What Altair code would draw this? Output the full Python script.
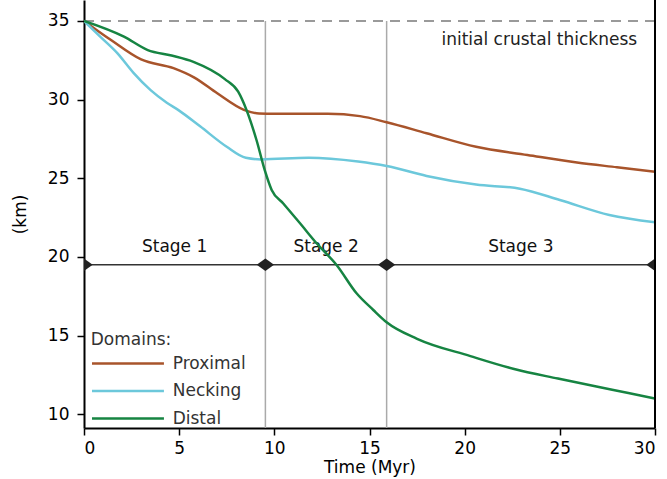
import altair as alt
import pandas as pd

# ---------------- data ----------------
domains = ["Proximal", "Necking", "Distal"]
colors = ["#a8542b", "#6cc8db", "#168442"]

prox_t = [0, 1.4, 3.0, 4.7, 5.8, 7.0, 8.4, 9.2, 10, 12.8, 14.5, 15.9, 18.0, 20.6, 23.3, 25.9, 28.0, 30]
prox_h = [35, 33.8, 32.55, 32.0, 31.4, 30.4, 29.35, 29.12, 29.1, 29.1, 28.95, 28.56, 27.86, 27.0, 26.48, 26.0, 25.7, 25.42]

neck_t = [0, 0.85, 1.75, 2.6, 3.5, 4.35, 5.0, 6.1, 7.5, 8.5, 9.3, 11.8, 14.4, 15.9, 18.0, 20.6, 22.9, 25.0, 27.6, 30]
neck_h = [35, 34.0, 32.95, 31.7, 30.6, 29.8, 29.3, 28.3, 27.0, 26.3, 26.2, 26.3, 26.06, 25.78, 25.15, 24.6, 24.34, 23.62, 22.67, 22.2]

dist_t = [0, 2.1, 3.35, 4.6, 5.75, 7.4, 8.1, 8.55, 9.07, 9.5, 9.86, 10.47, 11.35, 12.22, 13.27, 14.32, 15.2, 15.9,
          17.5, 20.3, 22.6, 24.9, 27.05, 28.6, 30]
dist_h = [35, 34.0, 33.15, 32.8, 32.4, 31.3, 30.5, 29.3, 27.4, 25.5, 24.26, 23.4, 22.14, 20.87, 19.49, 17.69, 16.63, 15.85,
          14.8, 13.7, 12.88, 12.27, 11.73, 11.36, 11.0]

stage_bounds = [9.53, 15.9]
stage_marker_t = [0, 9.53, 15.9, 30]
stage_labels = ["Stage 1", "Stage 2", "Stage 3"]
stage_label_t = [4.76, 12.72, 22.95]
stage_line_h = 19.5
stage_label_h = 20.3

initial_thickness = 35
X_MIN, X_MAX = 0, 30
Y_MIN, Y_MAX = 9.13, 36.33

x_ticks = [0, 5, 10, 15, 20, 25, 30]
y_ticks = [10, 15, 20, 25, 30, 35]

rows = []
for name, ts, hs in [("Proximal", prox_t, prox_h), ("Necking", neck_t, neck_h), ("Distal", dist_t, dist_h)]:
    for t, h in zip(ts, hs):
        rows.append({"domain": name, "t": t, "h": h})
df = pd.DataFrame(rows)

FONT = "DejaVu Sans"
FS = 17
xs = alt.Scale(domain=[X_MIN, X_MAX], nice=False, zero=False)
ys = alt.Scale(domain=[Y_MIN, Y_MAX], nice=False, zero=False)

# ---------------- layers ----------------
dashed = alt.Chart(pd.DataFrame({"h": [initial_thickness]})).mark_rule(
    strokeDash=[10, 7], color="#7a7a7a", strokeWidth=1.5
).encode(y=alt.Y("h:Q", scale=ys))

vlines = alt.Chart(pd.DataFrame({"t": stage_bounds})).mark_rule(
    color="#aaaaaa", strokeWidth=1.5
).encode(x=alt.X("t:Q", scale=xs), y=alt.datum(initial_thickness), y2=alt.datum(Y_MIN))

stage_line = alt.Chart(pd.DataFrame({"a": [X_MIN], "b": [X_MAX], "h": [stage_line_h]})).mark_rule(
    color="#333333", strokeWidth=1.5
).encode(x=alt.X("a:Q", scale=xs), x2="b:Q", y=alt.Y("h:Q", scale=ys))

diamonds = alt.Chart(pd.DataFrame({"t": stage_marker_t, "h": [stage_line_h] * len(stage_marker_t)})).mark_point(
    shape="M-1,0L0,-0.72L1,0L0,0.72Z", filled=True, color="#222222", size=300, opacity=1, clip=True
).encode(x=alt.X("t:Q", scale=xs), y=alt.Y("h:Q", scale=ys))

stage_text = alt.Chart(pd.DataFrame({"t": stage_label_t, "h": [stage_label_h] * 3, "lab": stage_labels})).mark_text(
    fontSize=FS, font=FONT, color="#111111", baseline="alphabetic", align="center"
).encode(x=alt.X("t:Q", scale=xs), y=alt.Y("h:Q", scale=ys), text="lab:N")

init_text = alt.Chart(pd.DataFrame({"t": [29.06], "h": [33.5], "lab": ["initial crustal thickness"]})).mark_text(
    fontSize=FS, font=FONT, color="#222222", baseline="alphabetic", align="right"
).encode(x=alt.X("t:Q", scale=xs), y=alt.Y("h:Q", scale=ys), text="lab:N")

lines = alt.Chart(df).mark_line(strokeWidth=2.5, interpolate="monotone", clip=True).encode(
    x=alt.X("t:Q", scale=xs, title="Time (Myr)",
            axis=alt.Axis(values=x_ticks, grid=False, domainColor="black", domainWidth=2,
                          tickColor="black", tickWidth=1.5, tickSize=7, labelFontSize=FS,
                          labelColor="black", labelPadding=5, titleFontSize=FS, titleColor="black",
                          titleFontWeight="normal", titlePadding=3, labelFont=FONT, titleFont=FONT)),
    y=alt.Y("h:Q", scale=ys, title="(km)",
            axis=alt.Axis(values=y_ticks, grid=False, domainColor="black", domainWidth=2,
                          tickColor="black", tickWidth=1.5, tickSize=7, labelFontSize=FS,
                          labelColor="black", labelPadding=8, titleFontSize=FS, titleColor="black",
                          titleFontWeight="normal", titlePadding=18, labelFont=FONT, titleFont=FONT)),
    color=alt.Color("domain:N", scale=alt.Scale(domain=domains, range=colors),
                    legend=alt.Legend(orient="none", legendX=6.7, legendY=332, title="Domains:",
                                      titleFontSize=FS, titleFontWeight="normal", titleColor="#333333",
                                      titleFont=FONT, labelFont=FONT, labelFontSize=FS, labelColor="#333333",
                                      symbolType="M-1,0H9", symbolSize=207, symbolStrokeWidth=2.5,
                                      labelOffset=65, rowPadding=9.5, titlePadding=6, padding=0)),
)

right_spine = alt.Chart(pd.DataFrame({"t": [X_MAX]})).mark_rule(color="black", strokeWidth=2).encode(
    x=alt.X("t:Q", scale=xs)
)

chart = alt.layer(dashed, vlines, stage_line, stage_text, init_text, lines, diamonds, right_spine).properties(
    width=571, height=428,
    padding={"left": 84, "top": 0, "right": 12, "bottom": 51},
    autosize=alt.AutoSizeParams(type="none"),
    background="white",
).configure(font=FONT).configure_view(stroke=None)

chart.save("out.html", embed_options={"renderer": "svg", "actions": False})
